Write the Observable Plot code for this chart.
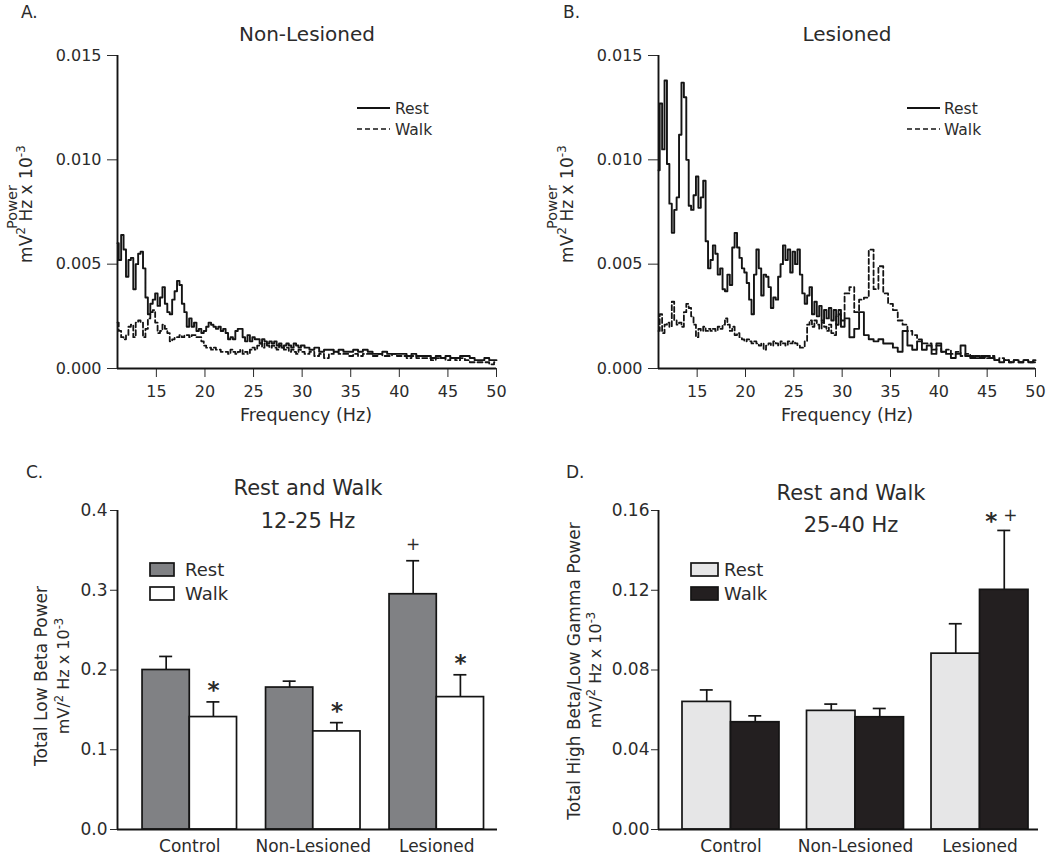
<!DOCTYPE html>
<html><head><meta charset="utf-8">
<script src="https://cdn.jsdelivr.net/npm/d3@7"></script>
<script src="https://cdn.jsdelivr.net/npm/@observablehq/plot@0.6"></script>
<style>
html,body{margin:0;padding:0;background:#fff;}
#fig{position:relative;width:1050px;height:856px;overflow:hidden;font-family:"DejaVu Sans",sans-serif;}
.panel{position:absolute;}
#overlay{position:absolute;left:0;top:0;pointer-events:none;}
</style></head><body><div id="fig"></div>
<script>
// ---------- Data ----------
// Frequency grid (Hz) of the power spectra
const freq = [11,11.25,11.5,11.75,12,12.25,12.5,12.75,13,13.25,13.5,13.75,14,14.25,14.5,14.75,15,15.25,15.5,15.75,
16,16.25,16.5,16.75,17,17.25,17.5,17.75,18,18.25,18.5,18.75,19,19.25,19.5,19.75,20,20.25,20.5,20.75,
21,21.25,21.5,21.75,22,22.25,22.5,22.75,23,23.25,23.5,23.75,24,24.25,24.5,24.75,25,25.25,25.5,25.75,
26,26.25,26.5,26.75,27,27.25,27.5,27.75,28,28.25,28.5,28.75,29,29.25,29.5,29.75,30,
30.5,31,31.5,32,32.5,33,33.5,34,34.5,35,35.5,36,36.5,37,37.5,38,38.5,39,39.5,40,
40.5,41,41.5,42,42.5,43,43.5,44,44.5,45,45.5,46,46.5,47,47.5,48,48.5,49,49.5,50];

// A. Non-Lesioned
const nonLesionedRest = [0.0060,0.0052,0.0064,0.0057,0.0044,0.0052,0.0053,0.0038,0.0050,0.0055,
0.0056,0.0048,0.0034,0.0026,0.0031,0.0033,0.0036,0.0030,0.0034,0.0039,
0.0031,0.0027,0.0026,0.0033,0.0037,0.0042,0.0040,0.0031,0.0027,0.0020,
0.0024,0.0020,0.0022,0.0018,0.0019,0.0017,0.0018,0.0020,0.0022,0.0021,
0.0020,0.0019,0.0020,0.0018,0.0019,0.0017,0.0014,0.0015,0.0014,0.0018,
0.0019,0.0019,0.0015,0.0013,0.0016,0.0013,0.0015,0.0014,0.0014,0.0012,
0.0014,0.0013,0.0012,0.0013,0.0012,0.0013,0.0011,0.0012,0.0010,0.0011,
0.0012,0.0011,0.0010,0.0012,0.0011,0.0010,0.0011,
0.0010,0.0009,0.0010,0.0008,0.0009,0.0009,0.0008,0.0009,0.0008,0.0008,
0.0009,0.0008,0.0009,0.0008,0.0007,0.0007,0.0008,0.0007,0.0007,0.0007,
0.0007,0.0006,0.0007,0.0006,0.0006,0.0006,0.0005,0.0006,0.0005,0.0006,
0.0005,0.0005,0.0006,0.0006,0.0005,0.0004,0.0004,0.0005,0.0004,0.0004];
const nonLesionedWalk = [0.0022,0.0018,0.0015,0.0014,0.0016,0.0020,0.0021,0.0015,0.0022,0.0023,
0.0022,0.0015,0.0019,0.0024,0.0027,0.0028,0.0022,0.0017,0.0018,0.0021,
0.0019,0.0017,0.0013,0.0014,0.0015,0.0015,0.0016,0.0015,0.0016,0.0016,
0.0015,0.0016,0.0016,0.0015,0.0015,0.0013,0.0011,0.0010,0.0010,0.0009,
0.0010,0.0009,0.0009,0.0008,0.0008,0.0008,0.0007,0.0009,0.0008,0.0007,
0.0008,0.0009,0.0007,0.0008,0.0007,0.0009,0.0010,0.0009,0.0011,0.0012,
0.0010,0.0012,0.0011,0.0010,0.0011,0.0010,0.0009,0.0011,0.0010,0.0009,
0.0010,0.0008,0.0009,0.0008,0.0007,0.0009,0.0008,
0.0007,0.0008,0.0006,0.0007,0.0005,0.0007,0.0008,0.0007,0.0007,0.0006,
0.0007,0.0006,0.0007,0.0007,0.0006,0.0007,0.0006,0.0006,0.0007,0.0006,
0.0006,0.0005,0.0006,0.0005,0.0005,0.0005,0.0004,0.0005,0.0005,0.0004,
0.0005,0.0004,0.0005,0.0004,0.0003,0.0003,0.0003,0.0003,0.0002,0.0003];

// B. Lesioned
const lesionedRest = [0.0095,0.0127,0.0105,0.0138,0.0098,0.0079,0.0065,0.0076,0.0082,0.0112,
0.0137,0.0130,0.0100,0.0078,0.0076,0.0083,0.0092,0.0077,0.0082,0.0090,
0.0061,0.0048,0.0052,0.0059,0.0055,0.0045,0.0048,0.0038,0.0037,0.0045,
0.0040,0.0058,0.0065,0.0058,0.0053,0.0048,0.0046,0.0041,0.0033,0.0026,
0.0045,0.0057,0.0048,0.0035,0.0045,0.0044,0.0039,0.0029,0.0034,0.0033,
0.0044,0.0050,0.0059,0.0052,0.0057,0.0046,0.0056,0.0050,0.0057,0.0045,
0.0036,0.0031,0.0035,0.0039,0.0026,0.0032,0.0025,0.0030,0.0022,0.0028,
0.0024,0.0029,0.0023,0.0028,0.0021,0.0028,0.0020,
0.0024,0.0015,0.0019,0.0027,0.0016,0.0014,0.0013,0.0014,0.0012,0.0012,
0.0010,0.0008,0.0018,0.0011,0.0009,0.0013,0.0009,0.0011,0.0007,0.0012,
0.0008,0.0007,0.0005,0.0007,0.0011,0.0006,0.0005,0.0006,0.0005,0.0006,
0.0005,0.0004,0.0003,0.0004,0.0003,0.0004,0.0003,0.0004,0.0003,0.0004];
const lesionedWalk = [0.0018,0.0026,0.0017,0.0021,0.0022,0.0020,0.0032,0.0023,0.0021,0.0022,
0.0020,0.0027,0.0031,0.0029,0.0025,0.0021,0.0015,0.0019,0.0018,0.0020,
0.0018,0.0019,0.0018,0.0019,0.0018,0.0020,0.0019,0.0021,0.0024,0.0021,
0.0018,0.0020,0.0016,0.0017,0.0015,0.0014,0.0013,0.0014,0.0013,0.0012,
0.0013,0.0012,0.0011,0.0012,0.0009,0.0011,0.0012,0.0011,0.0013,0.0012,
0.0011,0.0013,0.0012,0.0011,0.0013,0.0012,0.0013,0.0012,0.0011,0.0010,
0.0010,0.0013,0.0021,0.0023,0.0020,0.0023,0.0021,0.0019,0.0023,0.0020,
0.0018,0.0021,0.0017,0.0016,0.0025,0.0026,0.0023,
0.0036,0.0039,0.0027,0.0033,0.0034,0.0057,0.0038,0.0049,0.0036,0.0031,
0.0028,0.0023,0.0021,0.0018,0.0016,0.0014,0.0012,0.0012,0.0009,0.0011,
0.0008,0.0009,0.0007,0.0008,0.0006,0.0007,0.0006,0.0005,0.0006,0.0005,
0.0006,0.0004,0.0005,0.0004,0.0003,0.0004,0.0003,0.0004,0.0003,0.0003];

const freqTicks = [15,20,25,30,35,40,45,50];
const powerTicks = [0,0.005,0.010,0.015];

// C. Low beta (12-25 Hz) and D. High beta / low gamma (25-40 Hz)
const groups = ["Control","Non-Lesioned","Lesioned"];
const lowBetaRestMean = [0.200,0.178,0.295];
const lowBetaRestSem  = [0.017,0.008,0.042];
const lowBetaWalkMean = [0.141,0.123,0.166];
const lowBetaWalkSem  = [0.019,0.011,0.028];
const lowBetaTicks = [0,0.1,0.2,0.3,0.4];
const lowBetaStars = ["Control","Non-Lesioned","Lesioned"];   // * over Walk bars
const lowBetaPlus  = ["Lesioned"];                             // + over Rest bar

const highBetaRestMean = [0.0640,0.0595,0.0882];
const highBetaRestSem  = [0.0060,0.0034,0.0150];
const highBetaWalkMean = [0.0538,0.0563,0.1202];
const highBetaWalkSem  = [0.0032,0.0044,0.0298];
const highBetaTicks = [0,0.04,0.08,0.12,0.16];
const highBetaStars = ["Lesioned"];  // * over Walk bar
const highBetaPlus  = ["Lesioned"];  // + over Walk bar

// ---------- Drawing ----------
const INK = "#141414", TXT = "#2b2b2b";
const fig = document.getElementById("fig");
function place(node, left, top) {
  const d = document.createElement("div");
  d.className = "panel"; d.style.left = left + "px"; d.style.top = top + "px";
  d.appendChild(node); fig.appendChild(d);
}
const baseStyle = {fontFamily: "DejaVu Sans", color: TXT, background: "transparent", overflow: "visible"};

function spectrum(rest, walk, ml, mr) {
  const rows = freq.map((f, i) => ({freq: f, rest: rest[i], walk: walk[i]}));
  return Plot.plot({
    width: 525, height: 430, marginLeft: ml, marginRight: mr, marginTop: 55, marginBottom: 62,
    style: {...baseStyle, fontSize: "16px"},
    x: {domain: [11, 50], ticks: freqTicks, tickSize: 9, tickPadding: 8, label: null},
    y: {domain: [0, 0.015], ticks: powerTicks, tickFormat: ".3f", tickSize: 10, tickPadding: 6, label: null},
    marks: [
      Plot.line(rows, {x: "freq", y: "walk", curve: "step", stroke: INK, strokeWidth: 1.8, strokeDasharray: "5,3"}),
      Plot.line(rows, {x: "freq", y: "rest", curve: "step", stroke: INK, strokeWidth: 1.9}),
      Plot.ruleY([0], {stroke: INK, strokeWidth: 1.9}),
      Plot.ruleX([11], {stroke: INK, strokeWidth: 1.9})
    ]
  });
}

function barPanel(cfg) {
  const xs = d3.scaleBand(groups, [cfg.ml, 525 - cfg.mr]).paddingInner(cfg.pi).paddingOuter(cfg.po).align(cfg.align);
  const bw = xs.bandwidth(), q = bw / 4;
  const rest = groups.map((g, i) => ({group: g, value: cfg.restMean[i], top: cfg.restMean[i] + cfg.restSem[i]}));
  const walk = groups.map((g, i) => ({group: g, value: cfg.walkMean[i], top: cfg.walkMean[i] + cfg.walkSem[i]}));
  const walkTop = g => walk.find(d => d.group === g);
  const restTop = g => rest.find(d => d.group === g);
  const cap = 6.5;
  const axisDx = cfg.ml - (xs(groups[0]) + bw / 2);
  const marks = [
    Plot.ruleX(rest, {x: "group", y1: "value", y2: "top", dx: -q, stroke: INK, strokeWidth: 1.7}),
    Plot.tickY(rest, {x: "group", y: "top", insetLeft: q - cap, insetRight: bw - q - cap, stroke: INK, strokeWidth: 1.7}),
    Plot.ruleX(walk, {x: "group", y1: "value", y2: "top", dx: q, stroke: INK, strokeWidth: 1.7}),
    Plot.tickY(walk, {x: "group", y: "top", insetLeft: 3 * q - cap, insetRight: q - cap, stroke: INK, strokeWidth: 1.7}),
    Plot.barY(rest, {x: "group", y: "value", insetRight: bw / 2, fill: cfg.restFill, stroke: INK, strokeWidth: 1.7}),
    Plot.barY(walk, {x: "group", y: "value", insetLeft: bw / 2, fill: cfg.walkFill, stroke: INK, strokeWidth: 1.7}),
    Plot.ruleY([0], {stroke: INK, strokeWidth: 1.9}),
    Plot.ruleX([groups[0]], {x: d => d, dx: axisDx, stroke: INK, strokeWidth: 1.9}),
    Plot.text(groups, {x: d => d, frameAnchor: "bottom", lineAnchor: "top", dy: 10, fontSize: 17, fill: TXT}),
    Plot.text(cfg.stars.map(walkTop), {x: "group", y: "top", text: () => "*", dx: q + cfg.starDx, dy: cfg.starDy, fontSize: 23, fontWeight: "bold", fill: TXT}),
    Plot.text(cfg.plus.map(cfg.plusOnWalk ? walkTop : restTop), {x: "group", y: "top", text: () => "+", dx: (cfg.plusOnWalk ? q : -q) + cfg.plusDx, dy: cfg.plusDy, fontSize: 17, fill: TXT})
  ];
  return Plot.plot({
    width: 525, height: 426, marginLeft: cfg.ml, marginRight: cfg.mr, marginTop: 80, marginBottom: 27,
    style: {...baseStyle, fontSize: "17px"},
    x: {domain: groups, paddingInner: cfg.pi, paddingOuter: cfg.po, align: cfg.align, round: false, axis: null},
    y: {domain: cfg.yDomain, ticks: cfg.ticks, tickFormat: cfg.fmt, tickSize: 7, tickPadding: cfg.tp, label: null},
    marks
  });
}

place(spectrum(nonLesionedRest, nonLesionedWalk, 117, 29), 0, 0);
place(spectrum(lesionedRest, lesionedWalk, 133, 15), 525, 0);
place(barPanel({ml: 117, mr: 28, pi: 0.235, po: 0.156, align: 0.65,
  restMean: lowBetaRestMean, restSem: lowBetaRestSem, walkMean: lowBetaWalkMean, walkSem: lowBetaWalkSem,
  restFill: "#808184", walkFill: "#ffffff", yDomain: [0, 0.4], ticks: lowBetaTicks, fmt: ".1f", tp: 3,
  stars: lowBetaStars, plus: lowBetaPlus, plusOnWalk: false, starDx: 0, starDy: -11, plusDx: 0, plusDy: -16}), 0, 430);
place(barPanel({ml: 133, mr: 12, pi: 0.221, po: 0.1365, align: 0.706,
  restMean: highBetaRestMean, restSem: highBetaRestSem, walkMean: highBetaWalkMean, walkSem: highBetaWalkSem,
  restFill: "#e6e6e7", walkFill: "#231f20", yDomain: [0, 0.16], ticks: highBetaTicks, fmt: ".2f", tp: 2,
  stars: highBetaStars, plus: highBetaPlus, plusOnWalk: true, starDx: -13, starDy: -9, plusDx: 6, plusDy: -15}), 525, 430);

// ---------- Annotation overlay (titles, axis titles, legends) ----------
const svg = d3.select(fig).append("svg").attr("id", "overlay").attr("width", 1050).attr("height", 856)
  .style("font-family", "DejaVu Sans").attr("fill", TXT);
function txt(x, y, s, size, anchor = "start") {
  return svg.append("text").attr("x", x).attr("y", y).attr("font-size", size).attr("text-anchor", anchor).text(s);
}
// panel letters
txt(21, 18, "A.", 17); txt(563, 18, "B.", 17); txt(26, 478, "C.", 17); txt(566, 478, "D.", 17);
// titles
txt(307, 41, "Non-Lesioned", 20, "middle");
txt(847, 41, "Lesioned", 20, "middle");
txt(308, 495, "Rest and Walk", 21, "middle"); txt(308, 528, "12-25 Hz", 21, "middle");
txt(851, 500, "Rest and Walk", 21, "middle"); txt(851, 532, "25-40 Hz", 21, "middle");
// x titles
txt(306, 421, "Frequency (Hz)", 17.5, "middle");
txt(847, 421, "Frequency (Hz)", 17.5, "middle");
// rotated y titles
function rot(x, y, size) {
  return svg.append("text").attr("transform", `translate(${x},${y}) rotate(-90)`).attr("font-size", size).attr("text-anchor", "middle");
}
function unitLine(x, y, size, slash) {
  const t = rot(x, y, size);
  t.append("tspan").text(slash ? "mV/" : "mV");
  t.append("tspan").attr("dy", -size * 0.4).attr("font-size", size * 0.72).text("2");
  t.append("tspan").attr("dy", size * 0.4).text(" Hz x 10");
  t.append("tspan").attr("dy", -size * 0.4).attr("font-size", size * 0.72).text("-3");
}
rot(17, 207, 14.5).text("Power"); unitLine(32, 204, 17, false);
rot(557, 207, 14.5).text("Power"); unitLine(573, 204, 17, false);
rot(47, 676, 17).text("Total Low Beta Power"); unitLine(69, 676, 16, true);
rot(580, 671, 17).text("Total High Beta/Low Gamma Power"); unitLine(601, 670, 16, true);
// line legends A/B
function lineLegend(x0, x1, tx) {
  svg.append("line").attr("x1", x0).attr("x2", x1).attr("y1", 108).attr("y2", 108).attr("stroke", INK).attr("stroke-width", 1.8);
  svg.append("line").attr("x1", x0).attr("x2", x1).attr("y1", 129).attr("y2", 129).attr("stroke", INK).attr("stroke-width", 1.7).attr("stroke-dasharray", "5,3");
  txt(tx, 113.5, "Rest", 15.5); txt(tx, 134.5, "Walk", 15.5);
}
lineLegend(357, 390, 395);
lineLegend(907, 940, 944);
// swatch legends C/D
function boxLegend(x, w, tx, restFill, walkFill) {
  svg.append("rect").attr("x", x).attr("y", 563).attr("width", w).attr("height", 13).attr("fill", restFill).attr("stroke", INK).attr("stroke-width", 1.7);
  svg.append("rect").attr("x", x).attr("y", 587).attr("width", w).attr("height", 13).attr("fill", walkFill).attr("stroke", INK).attr("stroke-width", 1.7);
  txt(tx, 576, "Rest", 18); txt(tx, 600, "Walk", 18);
}
boxLegend(150, 24, 185, "#808184", "#ffffff");
boxLegend(691, 27, 724, "#e6e6e7", "#231f20");
</script></body></html>
